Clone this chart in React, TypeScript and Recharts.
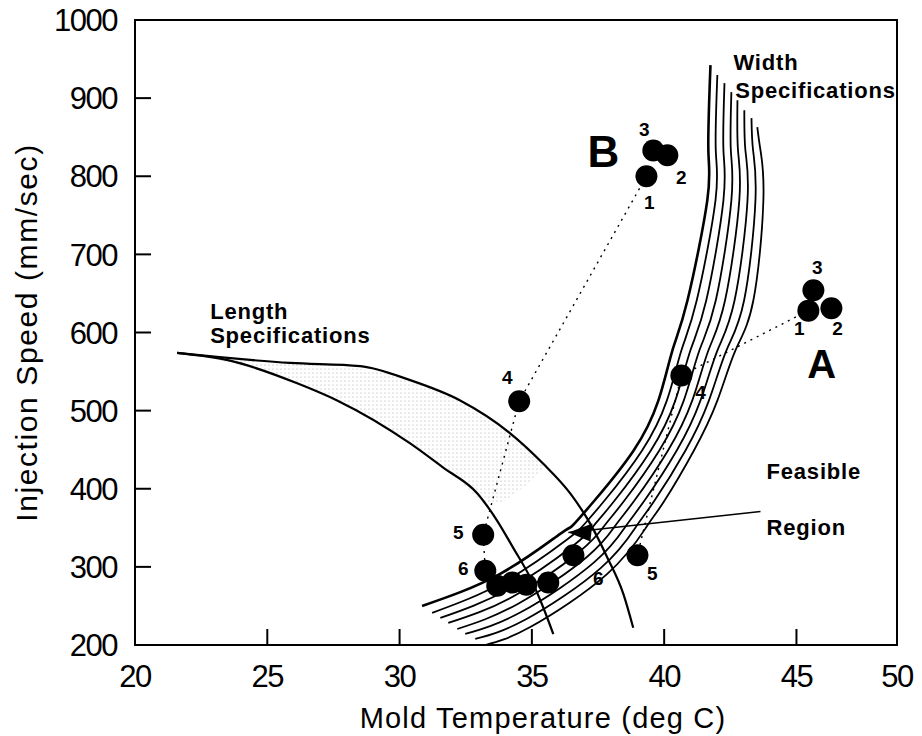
import React from "react"
import { ComposedChart, XAxis, YAxis, Line, Area, Scatter, ReferenceArea } from "recharts"

const FONT = '"Liberation Sans", Arial, Helvetica, sans-serif'

// axis ticks (the last x tick sits on the right frame and is printed as 50)
const xTicks = [20, 25, 30, 35, 40, 45, 48.8]
const yTicks = [200, 300, 400, 500, 600, 700, 800, 900, 1000]

// run B: points 1..6 (t = mold temperature, v = injection speed)
const pointsB = [
  { t: 39.33, v: 800 },
  { t: 40.12, v: 827 },
  { t: 39.59, v: 833 },
  { t: 34.52, v: 512 },
  { t: 33.16, v: 341 },
  { t: 33.24, v: 295 },
]

// run A: points 1..6
const pointsA = [
  { t: 45.45, v: 628 },
  { t: 46.32, v: 631 },
  { t: 45.64, v: 654 },
  { t: 40.65, v: 545 },
  { t: 38.99, v: 315 },
  { t: 36.57, v: 315 },
]

// later iterations, unlabeled
const laterPoints = [
  { t: 33.69, v: 276 },
  { t: 34.26, v: 280 },
  { t: 34.79, v: 277 },
  { t: 35.62, v: 280 },
]

// dotted search paths
const pathB = [
  { t: 39.33, v: 800 },
  { t: 34.52, v: 512 },
  { t: 33.16, v: 341 },
  { t: 33.24, v: 295 },
]
const pathA = [
  { t: 45.45, v: 628 },
  { t: 40.65, v: 545 },
  { t: 38.99, v: 315 },
]

// length specification limits
const lengthUpper = [
  { t: 21.59, v: 574 },
  { t: 25.86, v: 561 },
  { t: 28.51, v: 557 },
  { t: 30.4, v: 539 },
  { t: 32.29, v: 513 },
  { t: 34.18, v: 471 },
  { t: 35.43, v: 432 },
  { t: 36.45, v: 394 },
  { t: 37.21, v: 355 },
  { t: 37.85, v: 312 },
  { t: 38.46, v: 265 },
  { t: 38.83, v: 222 },
]
const lengthLower = [
  { t: 21.59, v: 574 },
  { t: 23.59, v: 564 },
  { t: 26.13, v: 535 },
  { t: 27.64, v: 513 },
  { t: 30.4, v: 458 },
  { t: 31.65, v: 427 },
  { t: 32.94, v: 394 },
  { t: 33.69, v: 359 },
  { t: 34.3, v: 324 },
  { t: 34.94, v: 286 },
  { t: 35.43, v: 248 },
  { t: 35.81, v: 214 },
]
// stippled part of the length window (fades out toward the width band)
const lengthShade = [
  { t: 21.59, range: [574, 574] },
  { t: 22.5, range: [569, 571] },
  { t: 25, range: [548, 564] },
  { t: 27.5, range: [516, 558] },
  { t: 30, range: [466, 543] },
  { t: 32, range: [418, 517] },
  { t: 33.5, range: [380, 485] },
  { t: 34.6, range: [400, 458] },
  { t: 35.5, range: [428, 430] },
]

// width specification contours, left to right
const widthSpecLines = [
  [
    { t: 30.85, v: 250 }, { t: 33.8, v: 291.1 }, { t: 36.07, v: 342.3 }, { t: 36.53, v: 352.6 },
    { t: 37.36, v: 384.6 }, { t: 38.84, v: 448.7 }, { t: 39.78, v: 512.8 }, { t: 40.31, v: 576.9 },
    { t: 40.88, v: 641 }, { t: 41.63, v: 769.2 }, { t: 41.67, v: 833.3 }, { t: 41.75, v: 942.3 },
  ],
  [
    { t: 31.23, v: 241.1 }, { t: 33.97, v: 281.3 }, { t: 36.33, v: 335 }, { t: 36.93, v: 352.6 },
    { t: 37.74, v: 384.6 }, { t: 39.16, v: 448.7 }, { t: 40.1, v: 512.8 }, { t: 40.65, v: 576.9 },
    { t: 41.23, v: 641 }, { t: 41.94, v: 769.2 }, { t: 41.95, v: 833.3 }, { t: 42.01, v: 929.5 },
  ],
  [
    { t: 31.54, v: 234.6 }, { t: 34.13, v: 271.7 }, { t: 36.58, v: 327.7 }, { t: 37.34, v: 352.6 },
    { t: 38.12, v: 384.6 }, { t: 39.49, v: 448.7 }, { t: 40.42, v: 512.8 }, { t: 40.99, v: 576.9 },
    { t: 41.59, v: 641 }, { t: 42.24, v: 769.2 }, { t: 42.24, v: 833.3 }, { t: 42.28, v: 919.2 },
  ],
  [
    { t: 31.84, v: 228.2 }, { t: 34.29, v: 262 }, { t: 36.83, v: 320.4 }, { t: 37.74, v: 352.6 },
    { t: 38.49, v: 384.6 }, { t: 39.81, v: 448.7 }, { t: 40.74, v: 512.8 }, { t: 41.33, v: 576.9 },
    { t: 41.95, v: 641 }, { t: 42.54, v: 769.2 }, { t: 42.52, v: 833.3 }, { t: 42.54, v: 907.7 },
  ],
  [
    { t: 32.18, v: 220.5 }, { t: 34.45, v: 252.2 }, { t: 37.09, v: 313 }, { t: 38.15, v: 352.6 },
    { t: 38.87, v: 384.6 }, { t: 40.14, v: 448.7 }, { t: 41.06, v: 512.8 }, { t: 41.67, v: 576.9 },
    { t: 42.3, v: 641 }, { t: 42.84, v: 769.2 }, { t: 42.79, v: 833.3 }, { t: 42.77, v: 897.4 },
  ],
  [
    { t: 32.48, v: 214.1 }, { t: 34.61, v: 242.5 }, { t: 37.35, v: 305.7 }, { t: 38.56, v: 352.6 },
    { t: 39.25, v: 384.6 }, { t: 40.47, v: 448.7 }, { t: 41.37, v: 512.8 }, { t: 42.01, v: 576.9 },
    { t: 42.66, v: 641 }, { t: 43.15, v: 769.2 }, { t: 43.07, v: 833.3 }, { t: 43.03, v: 884.6 },
  ],
  [
    { t: 32.86, v: 207.7 }, { t: 34.78, v: 232.9 }, { t: 37.6, v: 298.4 }, { t: 38.96, v: 352.6 },
    { t: 39.63, v: 384.6 }, { t: 40.8, v: 448.7 }, { t: 41.69, v: 512.8 }, { t: 42.35, v: 576.9 },
    { t: 43.02, v: 641 }, { t: 43.45, v: 769.2 }, { t: 43.36, v: 833.3 }, { t: 43.3, v: 874.4 },
  ],
  [
    { t: 33.24, v: 200 }, { t: 34.94, v: 223.1 }, { t: 37.85, v: 291.1 }, { t: 39.36, v: 352.6 },
    { t: 40.01, v: 384.6 }, { t: 41.12, v: 448.7 }, { t: 42.01, v: 512.8 }, { t: 42.69, v: 576.9 },
    { t: 43.37, v: 641 }, { t: 43.75, v: 769.2 }, { t: 43.64, v: 833.3 }, { t: 43.52, v: 862.8 },
  ],
]

// leader from the arrow tip to the "Feasible Region" note
const feasibleLeader = [
  { t: 36.38, v: 344 },
  { t: 43.64, v: 371 },
]

// iteration numbers next to the points
const pointLabels = [
  { t: 39.25, v: 860, text: "3" },
  { t: 40.65, v: 799, text: "2" },
  { t: 39.44, v: 767, text: "1" },
  { t: 45.79, v: 683, text: "3" },
  { t: 45.11, v: 605, text: "1" },
  { t: 46.55, v: 605, text: "2" },
  { t: 34.07, v: 542, text: "4" },
  { t: 41.37, v: 523, text: "4" },
  { t: 32.22, v: 344, text: "5" },
  { t: 32.41, v: 298, text: "6" },
  { t: 37.51, v: 285, text: "6" },
  { t: 39.55, v: 291, text: "5" },
]

const runLabels = [
  { t: 37.7, v: 832, text: "B" },
  { t: 45.95, v: 560, text: "A" },
]

// notes, anchored at left end of the baseline
const notes = [
  { t: 22.84, v: 617, text: "Length" },
  { t: 22.84, v: 586, text: "Specifications" },
  { t: 42.62, v: 936, text: "Width" },
  { t: 42.69, v: 900, text: "Specifications" },
  { t: 43.87, v: 413, text: "Feasible" },
  { t: 43.87, v: 341, text: "Region" },
]

const labelFont = { fill: "#000", fontSize: 31, fontFamily: FONT, letterSpacing: -1.5 }

// inward tick marks, drawn with the tick label
const XTick = (p: any) => {
  const v = Number(p.payload.value)
  const x = Number(p.x)
  const y = Number(p.y)
  return (
    <g>
      <path d={`M${x},${y - 20}V${y - 36}`} stroke="#000" strokeWidth={2} fill="none" />
      <text x={x} y={y} dy="0.72em" textAnchor="middle" {...labelFont}>
        {v > 48 ? "50" : v}
      </text>
    </g>
  )
}

const YTick = (p: any) => {
  const v = Number(p.payload.value)
  const x = Number(p.x)
  const y = Number(p.y)
  return (
    <g>
      <path d={`M${x + 18},${y}H${x + 34}`} stroke="#000" strokeWidth={2} fill="none" />
      <text x={x} y={y} dy="0.36em" textAnchor="end" {...labelFont}>
        {v}
      </text>
    </g>
  )
}

const dotShape = (p: any) => <circle cx={p.cx} cy={p.cy} r={11} fill="#000" />

const centerText = (size: number) => (p: any) => (
  <text x={p.cx} y={p.cy} textAnchor="middle" dominantBaseline="central" fontSize={size} fontWeight="bold" fontFamily={FONT} fill="#000">
    {p.payload.text}
  </text>
)

const noteText = (p: any) => (
  <text x={p.cx} y={p.cy} textAnchor="start" fontSize={22} fontWeight="bold" fontFamily={FONT} letterSpacing={0.8} fill="#000">
    {p.payload.text}
  </text>
)

const arrowHead = (p: any) => (
  <polygon points={`${p.cx},${p.cy} ${p.cx + 24},${p.cy - 9} ${p.cx + 22},${p.cy + 9}`} fill="#000" />
)

const yTitle = (props: any) => {
  const vb = props.viewBox
  const x = vb.x + 37
  const y = vb.y + vb.height / 2
  return (
    <text x={x} y={y} transform={`rotate(-90 ${x} ${y})`} textAnchor="middle" fontSize={30} fontFamily={FONT} letterSpacing={1.6} fill="#000">
      Injection Speed (mm/sec)
    </text>
  )
}

export default function App() {
  return (
    <div style={{ position: "absolute", left: 0, top: 0, background: "#fff" }}>
      <ComposedChart width={922} height={736} margin={{ top: 20, right: 25, bottom: 0, left: 0 }}>
        <defs>
          <pattern id="stipple" width={4} height={4} patternUnits="userSpaceOnUse">
            <circle cx={1} cy={1} r={0.6} fill="#777" />
          </pattern>
        </defs>
        <XAxis
          type="number"
          dataKey="t"
          domain={[20, 48.8]}
          ticks={xTicks}
          interval={0}
          allowDataOverflow
          height={91}
          tickSize={0}
          tickMargin={20}
          axisLine={{ stroke: "#000", strokeWidth: 2 }}
          tickLine={false}
          tick={XTick}
          label={{
            value: "Mold Temperature (deg C)",
            position: "insideBottom",
            offset: 8,
            dx: 27,
            fill: "#000",
            fontSize: 29,
            fontFamily: FONT,
            letterSpacing: 1.2,
          }}
        />
        <YAxis
          type="number"
          dataKey="v"
          domain={[200, 1000]}
          ticks={yTicks}
          interval={0}
          allowDataOverflow
          width={135}
          tickSize={0}
          tickMargin={18}
          axisLine={{ stroke: "#000", strokeWidth: 2 }}
          tickLine={false}
          tick={YTick}
          label={{ content: yTitle }}
        />
        <ReferenceArea x1={20} x2={48.8} y1={200} y2={1000} fill="none" stroke="#000" strokeWidth={2} />

        <Area
          data={lengthShade}
          dataKey="range"
          type="monotone"
          stroke="none"
          fill="url(#stipple)"
          fillOpacity={0.7}
          isAnimationActive={false}
        />

        {widthSpecLines.map((line, i) => (
          <Line
            key={`w${i}`}
            data={line}
            dataKey="v"
            type="natural"
            stroke="#000"
            strokeWidth={i === 0 ? 2.6 : 1.8}
            dot={false}
            isAnimationActive={false}
          />
        ))}

        <Line data={lengthUpper} dataKey="v" type="monotone" stroke="#000" strokeWidth={2.2} dot={false} isAnimationActive={false} />
        <Line data={lengthLower} dataKey="v" type="monotone" stroke="#000" strokeWidth={2.2} dot={false} isAnimationActive={false} />

        <Line data={pathB} dataKey="v" type="linear" stroke="#000" strokeWidth={1.4} strokeDasharray="2 5" dot={false} isAnimationActive={false} />
        <Line data={pathA} dataKey="v" type="linear" stroke="#000" strokeWidth={1.4} strokeDasharray="2 5" dot={false} isAnimationActive={false} />

        <Line data={feasibleLeader} dataKey="v" type="linear" stroke="#000" strokeWidth={1.5} dot={false} isAnimationActive={false} />
        <Scatter data={feasibleLeader.slice(0, 1)} dataKey="v" shape={arrowHead} isAnimationActive={false} />

        <Scatter data={pointsB} dataKey="v" shape={dotShape} isAnimationActive={false} />
        <Scatter data={pointsA} dataKey="v" shape={dotShape} isAnimationActive={false} />
        <Scatter data={laterPoints} dataKey="v" shape={dotShape} isAnimationActive={false} />

        <Scatter data={pointLabels} dataKey="v" shape={centerText(19)} isAnimationActive={false} />
        <Scatter data={runLabels.slice(0, 1)} dataKey="v" shape={centerText(44)} isAnimationActive={false} />
        <Scatter data={runLabels.slice(1)} dataKey="v" shape={centerText(40)} isAnimationActive={false} />
        <Scatter data={notes} dataKey="v" shape={noteText} isAnimationActive={false} />
      </ComposedChart>
    </div>
  )
}
